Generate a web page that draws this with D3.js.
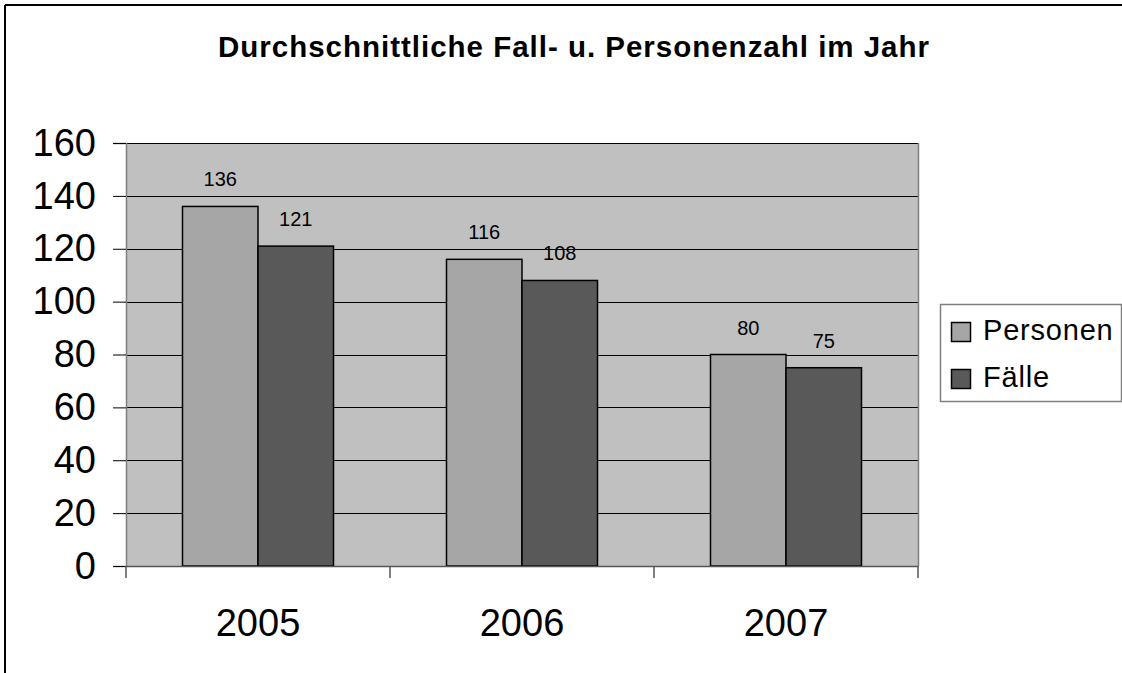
<!DOCTYPE html>
<html>
<head>
<meta charset="utf-8">
<script src="https://cdn.jsdelivr.net/npm/d3@7"></script>
<style>
  html, body { margin: 0; padding: 0; background: #fff; }
  svg { display: block; font-family: "Liberation Sans", Arial, sans-serif; }
</style>
</head>
<body>
<svg id="chart" width="1122" height="673"></svg>
<script>
const title = "Durchschnittliche Fall- u. Personenzahl im Jahr";
const categories = ["2005", "2006", "2007"];
const seriesNames = ["Personen", "Fälle"];
const personen = [136, 116, 80];
const faelle = [121, 108, 75];
const yTicks = [0, 20, 40, 60, 80, 100, 120, 140, 160];
const colors = ["#a6a6a6", "#595959"];

(function () {
const seriesValues = [personen, faelle];
const svg = d3.select("#chart");

// outer frame (top & left visible)
svg.append("line").attr("x1", 5).attr("y1", 5).attr("x2", 1122).attr("y2", 5)
  .attr("stroke", "#000").attr("stroke-width", 2);
svg.append("line").attr("x1", 5).attr("y1", 5).attr("x2", 5).attr("y2", 673)
  .attr("stroke", "#000").attr("stroke-width", 2);

// title
svg.append("text").attr("x", 573.5).attr("y", 57)
  .attr("text-anchor", "middle").attr("font-weight", "bold")
  .attr("font-size", 29.5).attr("textLength", 711).attr("lengthAdjust", "spacing")
  .text(title);

const pL = 126, pR = 918, pT = 143, pB = 566;
const x = d3.scaleBand().domain(categories).range([pL, pR]);
const x1 = d3.scaleBand().domain(seriesNames).range([56.5, 207.5]);
const y = d3.scaleLinear().domain([0, 160]).range([pB, pT]);

// plot background
svg.append("rect").attr("x", pL).attr("y", pT)
  .attr("width", pR - pL).attr("height", pB - pT)
  .attr("fill", "#c0c0c0");

// gridlines
svg.append("g").selectAll("line").data(yTicks.filter(d => d > 0)).join("line")
  .attr("x1", pL).attr("x2", pR)
  .attr("y1", d => Math.round(y(d)) + 0.5).attr("y2", d => Math.round(y(d)) + 0.5)
  .attr("stroke", "#000").attr("stroke-width", 1);

// plot border right side
svg.append("line").attr("x1", pR + 0.5).attr("x2", pR + 0.5).attr("y1", pT).attr("y2", pB)
  .attr("stroke", "#808080").attr("stroke-width", 1.5);

// bars
const groups = svg.append("g").selectAll("g").data(categories).join("g")
  .attr("transform", d => `translate(${x(d)},0)`);
const cells = (d, i) => seriesNames.map((s, j) => ({ s, v: seriesValues[j][i], j }));
groups.selectAll("rect").data(cells).join("rect")
  .attr("x", d => x1(d.s))
  .attr("width", x1.bandwidth())
  .attr("y", d => y(d.v))
  .attr("height", d => y(0) - y(d.v))
  .attr("fill", d => colors[d.j])
  .attr("stroke", "#000").attr("stroke-width", 1.5);
groups.selectAll("text").data(cells).join("text")
  .attr("x", d => x1(d.s) + x1.bandwidth() / 2)
  .attr("y", d => y(d.v) - 20)
  .attr("text-anchor", "middle").attr("font-size", 20)
  .text(d => d.v);

// y axis
const yAxis = d3.axisLeft(y).tickValues(yTicks).tickSize(13).tickPadding(17);
const gy = svg.append("g").attr("transform", `translate(${pL},0)`).call(yAxis);
gy.select(".domain").attr("stroke", "#808080").attr("stroke-width", 1.5);
gy.selectAll(".tick line").attr("stroke", "#000");
gy.selectAll(".tick text").attr("font-size", 38).attr("fill", "#000")
  .attr("font-family", "'Liberation Sans', Arial, sans-serif");

// x axis
const xAxis = d3.axisBottom(x).tickSize(0).tickPadding(0).tickSizeOuter(0);
const gx = svg.append("g").attr("transform", `translate(0,${pB})`).call(xAxis);
gx.select(".domain").attr("stroke", "#555").attr("stroke-width", 1.5);
gx.selectAll(".tick text").attr("font-size", 38).attr("fill", "#000")
  .attr("dy", null).attr("y", 70)
  .attr("font-family", "'Liberation Sans', Arial, sans-serif");
// category boundary ticks
const bounds = categories.map(c => x(c)).concat([x(categories[categories.length - 1]) + x.bandwidth()]);
svg.append("g").selectAll("line").data(bounds).join("line")
  .attr("x1", d => d).attr("x2", d => d).attr("y1", pB).attr("y2", pB + 12)
  .attr("stroke", "#555").attr("stroke-width", 1.5);

// legend
const lg = svg.append("g");
lg.append("rect").attr("x", 940.5).attr("y", 304.5).attr("width", 181).attr("height", 97)
  .attr("fill", "#fff").attr("stroke", "#808080").attr("stroke-width", 1.5);
seriesNames.forEach((s, j) => {
  const cy = 332 + j * 47;
  lg.append("rect").attr("x", 951.5).attr("y", cy - 9.5).attr("width", 19).attr("height", 19)
    .attr("fill", colors[j]).attr("stroke", "#000").attr("stroke-width", 1.5);
  lg.append("text").attr("x", 983).attr("y", cy + 8).attr("font-size", 29)
    .attr("letter-spacing", 0.8).text(s);
});
})();
</script>
</body>
</html>
